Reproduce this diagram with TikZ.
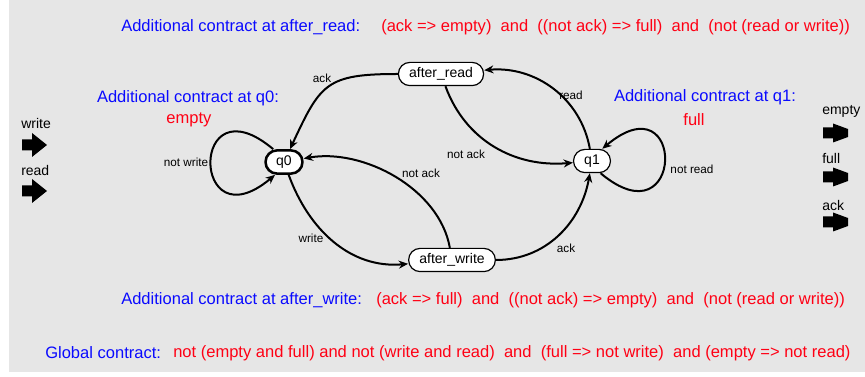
\documentclass[tikz,border=0pt]{standalone}
\usepackage{fontspec}
\setmainfont{Liberation Sans}
\usetikzlibrary{arrows.meta}
\tikzset{%%
  >={Stealth[length=7pt,width=6pt]}
  }
\definecolor{bgGray}{RGB}{230,230,230}
\definecolor{ctrBlue}{RGB}{10,10,255}
\definecolor{ctrRed}{RGB}{255,0,20}
\tikzset{%
  stateBox/.style={draw, fill=white, line width=0.9pt, rounded corners=8.6pt,
    minimum height=17.4pt, inner xsep=8pt, inner ysep=0pt,
    font=\fontsize{10.5}{12}\selectfont},
  initBox/.style={stateBox, line width=1.9pt},
  trans/.style={->, line width=1.5pt},
  ctrText/.style={inner sep=0pt, anchor=west, font=\fontsize{12.4}{14}\selectfont},
  blueTxt/.style={ctrText, text=ctrBlue},
  redTxt/.style={ctrText, text=ctrRed},
  edgeLbl/.style={inner sep=0pt, font=\fontsize{8.8}{10}\selectfont},
  portLbl/.style={inner sep=0pt, anchor=west, font=\fontsize{10.5}{12}\selectfont},
  inPort/.pic={\fill (-12.5,-5.5) -- (-2.5,-5.5) -- (-2.5,-12) -- (12.5,0)
    -- (-2.5,12) -- (-2.5,5.5) -- (-12.5,5.5) -- cycle;},
  outPort/.pic={\fill (-12.5,-5.5) -- (-2.5,-5.5) -- (-2.5,-9.5) -- (12.5,-4)
    -- (12.5,4) -- (-2.5,9.5) -- (-2.5,5.5) -- (-12.5,5.5) -- cycle;}
  }

\begin{document}
\begin{tikzpicture}[x=0.75pt, y=0.75pt]
  \useasboundingbox (0,0) rectangle (865,-377);
  \fill[bgGray] (9,0) rectangle (865,-372);

  % contracts
  \node[blueTxt] (ctrAR) at (121,-27) {Additional contract at after\_read:};
  \node[redTxt] (ctrARval) at (381,-27)
    {(ack => empty)\ \ and\ \ ((not ack) => full)\ \ and\ \ (not (read or write))};
  \node[blueTxt, anchor=center] (ctrQ0) at (188,-98) {Additional contract at q0:};
  \node[redTxt, anchor=center] (ctrQ0val) at (189,-120) {empty};
  \node[blueTxt, anchor=center] (ctrQ1) at (705,-97) {Additional contract at q1:};
  \node[redTxt, anchor=center] (ctrQ1val) at (694,-120) {full};
  \node[blueTxt] (ctrAW) at (121,-300) {Additional contract at after\_write:};
  \node[redTxt] (ctrAWval) at (376,-300)
    {(ack => full)\ \ and\ \ ((not ack) => empty)\ \ and\ \ (not (read or write))};
  \node[blueTxt] (ctrGlob) at (45,-353) {Global contract:};
  \node[redTxt] (ctrGlobval) at (173,-353)
    {not (empty and full) and not (write and read)\ \ and\ \ (full => not write)\ \ and (empty => not read)};

  % states
  \node[initBox] (q0) at (284,-162) {q0};
  \node[stateBox] (q1) at (592,-161) {q1};
  \node[stateBox] (ar) at (441,-74) {after\_read};
  \node[stateBox] (aw) at (452,-260) {after\_write};

  % transitions
  \draw[trans] (ar) to[out=180, in=65, looseness=1.4] (q0);
  \draw[trans] (q1) to[out=100, in=5, looseness=1.0] (ar);
  \draw[trans] (ar) to[out=-70, in=185] (q1);
  \draw[trans] (aw) to[out=100, in=10, looseness=0.9] (q0);
  \draw[trans] (q0) to[out=-70, in=185] (aw);
  \draw[trans] (aw) to[out=0, in=-100] (q1);
  \draw[trans] (q0.130) .. controls +(140:110) and +(220:110) .. (q0.235);
  \draw[trans] (q1.-55) .. controls +(-40:110) and +(40:110) .. (q1.50);

  \node[edgeLbl] (lAckAR) at (322,-78) {ack};
  \node[edgeLbl] (lRead) at (571,-95) {read};
  \node[edgeLbl] (lNotAckAR) at (466,-154) {not ack};
  \node[edgeLbl] (lNotAckAW) at (421,-173) {not ack};
  \node[edgeLbl] (lWrite) at (311,-238) {write};
  \node[edgeLbl] (lAckAW) at (566,-248) {ack};
  \node[edgeLbl] (lNotWrite) at (186,-162) {not write};
  \node[edgeLbl] (lNotRead) at (692,-169) {not read};

  % ports
  \node[portLbl] (pWrite) at (21,-124) {write};
  \pic at (34.5,-145) {inPort};
  \node[portLbl] (pRead) at (21,-171) {read};
  \pic at (34.5,-191) {inPort};
  \node[portLbl] (pEmpty) at (822,-111) {empty};
  \pic at (835.5,-133) {outPort};
  \node[portLbl] (pFull) at (822,-158) {full};
  \pic at (835.5,-177) {outPort};
  \node[portLbl] (pAck) at (822,-205) {ack};
  \pic at (835.5,-222) {outPort};
\end{tikzpicture}
\end{document}
